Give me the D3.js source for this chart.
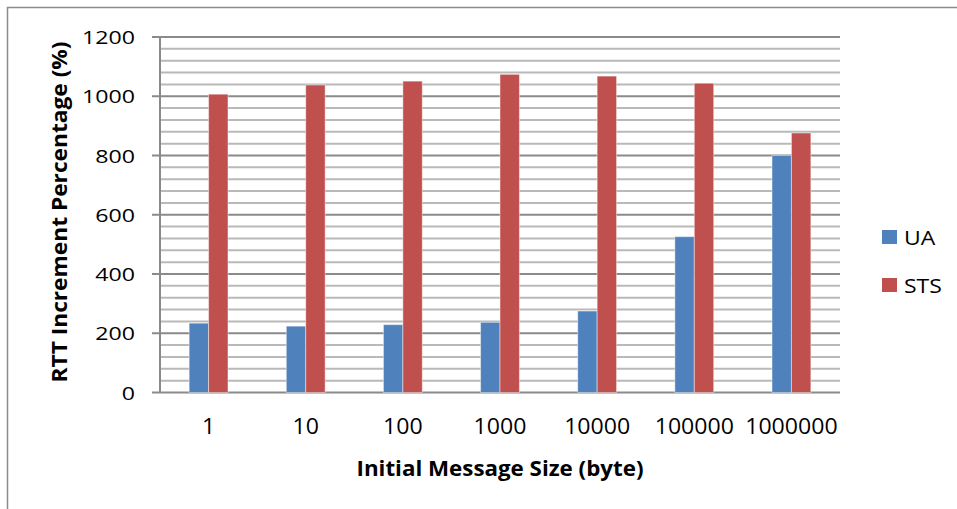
<!DOCTYPE html>
<html>
<head>
<meta charset="utf-8">
<script src="https://cdn.jsdelivr.net/npm/d3@7/dist/d3.min.js"></script>
<style>
  html, body { margin: 0; padding: 0; background: #fff; }
  svg { display: block; font-family: "Open Sans", "Noto Sans", sans-serif; }
</style>
</head>
<body>
<svg id="chart" width="957" height="509"></svg>
<script>
// Message sizes (bytes) on the category axis
const categories = ["1", "10", "100", "1000", "10000", "100000", "1000000"];
// RTT increment percentage per protocol
const uaValues  = [234, 224, 229, 237, 275, 526, 800];
const stsValues = [1007, 1038, 1051, 1074, 1068, 1044, 876];
const seriesNames = ["UA", "STS"];
const seriesColors = ["#4F81BD", "#C0504D"];
const yTicks = [0, 200, 400, 600, 800, 1000, 1200];

const svg = d3.select("#chart");
const plotLeft = 160, plotRight = 840, plotTop = 37, plotBottom = 392.5;

// outer frame (top and left edges)
svg.append("path")
  .attr("d", "M7.5,509 L7.5,7.5 L957,7.5")
  .attr("fill", "none").attr("stroke", "#8c8c8c").attr("stroke-width", 1.5);

const y = d3.scaleLinear().domain([0, 1200]).range([plotBottom, plotTop]);
const x0 = d3.scaleBand().domain(categories).range([plotLeft, plotRight])
  .paddingInner(0.6).paddingOuter(0.3);
const x1 = d3.scaleBand().domain(seriesNames).range([0, x0.bandwidth()]);

// minor gridlines every 40
const minor = d3.range(0, 1201, 40).filter(v => v % 200 !== 0);
svg.append("g").selectAll("line").data(minor).join("line")
  .attr("x1", plotLeft).attr("x2", plotRight)
  .attr("y1", d => y(d)).attr("y2", d => y(d))
  .attr("stroke", "#b9b9b9").attr("stroke-width", 2);

// major gridlines with tick marks
svg.append("g").selectAll("line").data(yTicks).join("line")
  .attr("x1", plotLeft - 8).attr("x2", plotRight)
  .attr("y1", d => y(d)).attr("y2", d => y(d))
  .attr("stroke", "#8a8a8a").attr("stroke-width", 2);

// y axis line
svg.append("line")
  .attr("x1", plotLeft).attr("x2", plotLeft).attr("y1", plotTop).attr("y2", plotBottom)
  .attr("stroke", "#8a8a8a").attr("stroke-width", 2);

// bars
const rows = categories.map((c, i) => ({ cat: c, vals: [uaValues[i], stsValues[i]] }));
const groups = svg.append("g").selectAll("g").data(rows).join("g")
  .attr("transform", d => `translate(${x0(d.cat)},0)`);
groups.selectAll("rect")
  .data(d => d.vals.map((v, k) => ({ key: seriesNames[k], v, k })))
  .join("rect")
  .attr("x", d => x1(d.key))
  .attr("width", x1.bandwidth())
  .attr("y", d => y(d.v))
  .attr("height", d => y(0) - y(d.v))
  .attr("fill", d => seriesColors[d.k])
  .attr("stroke", "#ffffff").attr("stroke-opacity", 0.45).attr("stroke-width", 1);

// y tick labels
svg.append("g").selectAll("text").data(yTicks).join("text")
  .attr("transform", d => `translate(135,${y(d) + 7}) scale(1.22,1)`)
  .attr("text-anchor", "end")
  .attr("font-size", 19).attr("fill", "#000")
  .text(d => d);

// x tick labels
svg.append("g").selectAll("text").data(categories).join("text")
  .attr("transform", d => `translate(${x0(d) + x0.bandwidth() / 2},434) scale(1.1,1)`)
  .attr("text-anchor", "middle")
  .attr("font-size", 21).attr("fill", "#000")
  .text(d => d);

// axis titles
svg.append("text")
  .attr("x", 500).attr("y", 476)
  .attr("text-anchor", "middle")
  .attr("font-size", 22).attr("font-weight", "bold")
  .attr("textLength", 287).attr("lengthAdjust", "spacingAndGlyphs")
  .text("Initial Message Size (byte)");

svg.append("text")
  .attr("transform", "translate(67,212) rotate(-90)")
  .attr("text-anchor", "middle")
  .attr("font-size", 22).attr("font-weight", "bold")
  .attr("textLength", 341).attr("lengthAdjust", "spacingAndGlyphs")
  .text("RTT Increment Percentage (%)");

// legend
const legend = svg.append("g").selectAll("g").data(seriesNames).join("g")
  .attr("transform", (d, i) => `translate(882,${230 + i * 48})`);
legend.append("rect")
  .attr("width", 15).attr("height", 14)
  .attr("fill", (d, i) => seriesColors[i]);
legend.append("text")
  .attr("transform", "translate(22,15) scale(1.15,1)")
  .attr("font-size", 20).attr("fill", "#000")
  .text(d => d);
</script>
</body>
</html>
